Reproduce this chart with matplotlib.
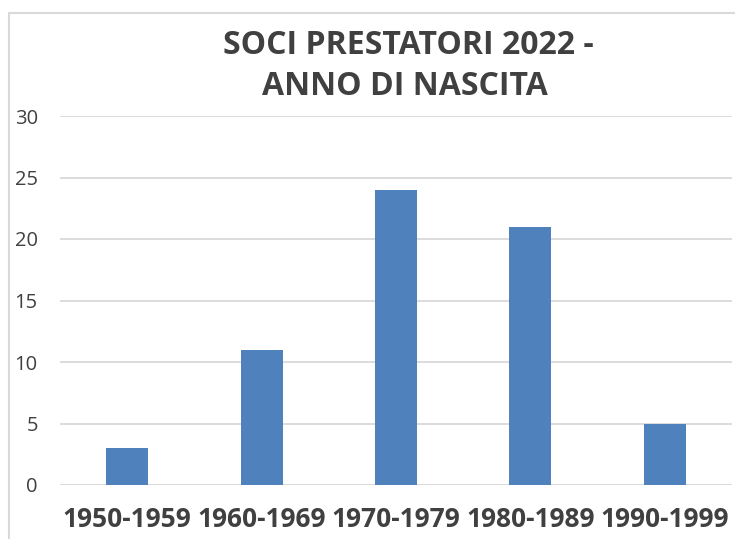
import matplotlib
matplotlib.use("Agg")
import matplotlib.pyplot as plt
from matplotlib.patches import Rectangle

categories = ["1950-1959", "1960-1969", "1970-1979", "1980-1989", "1990-1999"]
values = [3, 11, 24, 21, 5]
yticks = [0, 5, 10, 15, 20, 25, 30]
title_line1 = "SOCI PRESTATORI 2022 -"
title_line2 = "ANNO DI NASCITA"

W, H = 735, 539
fig = plt.figure(figsize=(W / 100, H / 100), dpi=100)
fig.patch.set_facecolor("white")

# outer chart border (cropped)
fig.patches.append(Rectangle((9 / W, 1 - 1000 / H), 2000 / W, (1000 - 13) / H,
                             transform=fig.transFigure, fill=False,
                             edgecolor="#d9d9d9", linewidth=1.5))

ax = fig.add_axes([60 / W, 1 - 485 / H, (732 - 60) / W, (485 - 116) / H])
x = list(range(len(categories)))
ax.bar(x, values, width=0.3125, color="#4F81BD", zorder=3)
ax.set_xlim(-0.5, len(categories) - 0.5)
ax.set_ylim(0, 30)
ax.set_yticks(yticks)
ax.set_yticklabels([str(v) for v in yticks], fontsize=14.5, color="#404040", family="Open Sans")
ax.set_xticks(x)
ax.set_xticklabels(categories, fontsize=19, fontweight="bold", color="#404040", family="Open Sans")
ax.tick_params(axis="both", length=0)
ax.tick_params(axis="y", pad=16)
ax.tick_params(axis="x", pad=15)
ax.yaxis.grid(True, color="#d9d9d9", linewidth=1.3, zorder=0)
for s in ax.spines.values():
    s.set_visible(False)
ax.axhline(0, color="#d9d9d9", linewidth=1.3, zorder=2)

fig.text(408 / W, 1 - 54 / H, title_line1, ha="center", va="baseline",
         fontsize=23, fontweight="bold", color="#404040", family="Open Sans")
fig.text(405 / W, 1 - 95 / H, title_line2, ha="center", va="baseline",
         fontsize=23, fontweight="bold", color="#404040", family="Open Sans")

fig.savefig("out.png", dpi=100)
